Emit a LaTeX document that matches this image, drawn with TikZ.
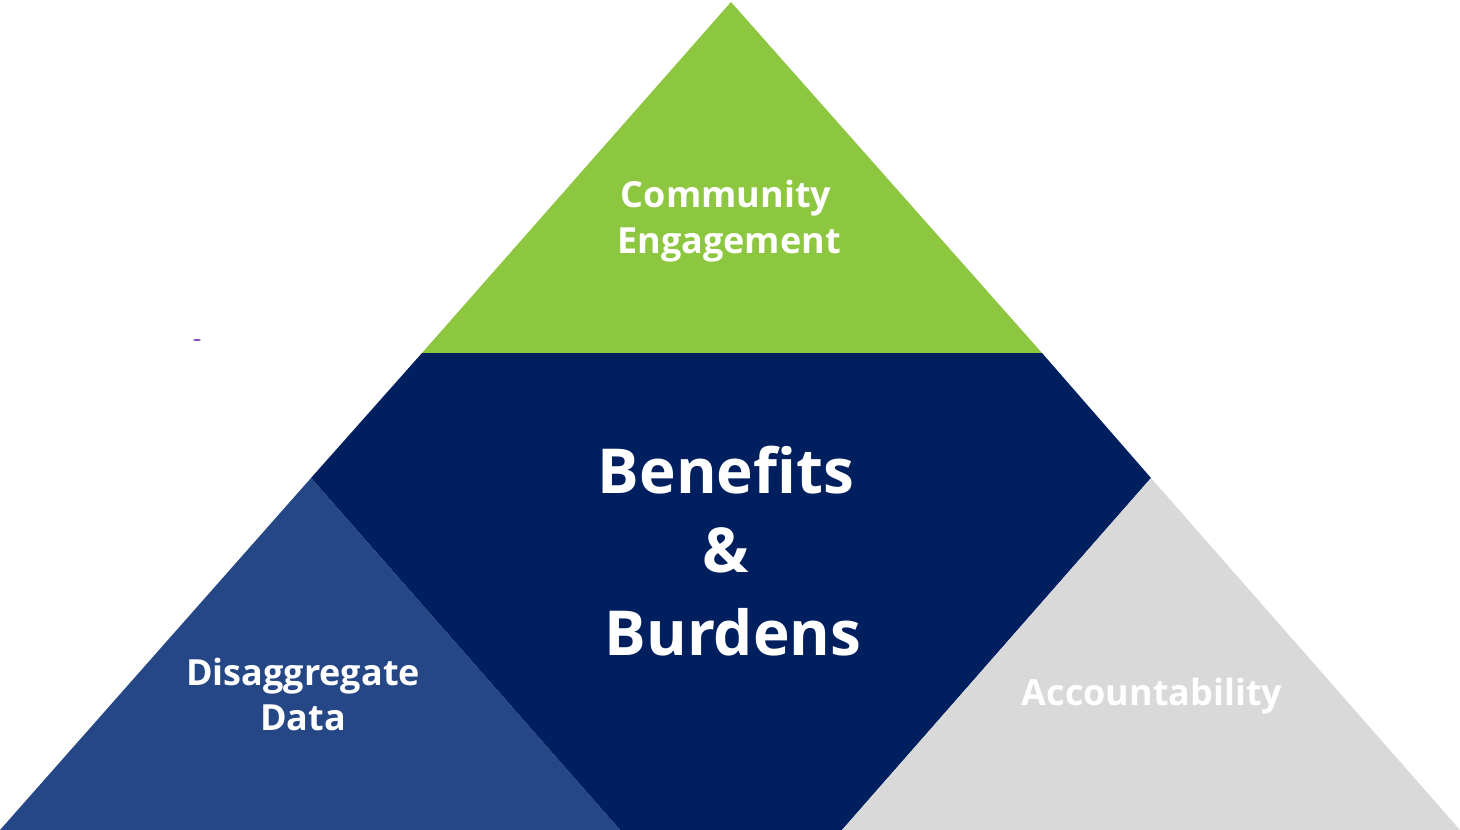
\documentclass[tikz,border=0pt]{standalone}
\usepackage{fontspec}
\setmainfont{Open Sans}
\definecolor{cgreen}{HTML}{8DC63F}
\definecolor{cnavy}{HTML}{001F5F}
\definecolor{cblue}{HTML}{254785}
\definecolor{cgray}{HTML}{D9D9D9}
\definecolor{cmark}{HTML}{8A4FC0}
\begin{document}
\begin{tikzpicture}[x=1pt,y=-1pt,
  lbl/.style={text=white,font=\bfseries,anchor=base,inner sep=0pt},
  small/.style={lbl,font=\fontsize{36}{42}\selectfont\bfseries},
  big/.style={lbl,font=\fontsize{62}{80}\selectfont\bfseries}]
\useasboundingbox (0,0) rectangle (1460,830);
% coordinates
\coordinate (apex) at (731,2);
\coordinate (gl) at (422,353);
\coordinate (gr) at (1042,353);
\coordinate (bl0) at (0,830);
\coordinate (bla) at (311,478);
\coordinate (blr) at (620,830);
\coordinate (gra) at (1151,478);
\coordinate (grl) at (842,830);
\coordinate (gr0) at (1460,830);
% regions
\fill[cgreen] (apex) -- (gr) -- (gl) -- cycle;
\fill[cnavy] (gl) -- (gr) -- (gra) -- (grl) -- (blr) -- (bla) -- cycle;
\fill[cblue] (bla) -- (blr) -- (bl0) -- cycle;
\fill[cgray] (gra) -- (gr0) -- (grl) -- cycle;
% tiny mark
\fill[cmark] (197,340) ellipse (4 and 1);
% labels
\node[small] (c1) at (726,207) {Community};
\node[small] (c2) at (729,253) {Engagement};
\node[big] (b1) at (726,493) {Benefits};
\node[big] (b2) at (726,572) {\&};
\node[big] (b3) at (733,655) {Burdens};
\node[small] (d1) at (303,685) {Disaggregate};
\node[small] (d2) at (303,730) {Data};
\node[small] (a1) at (1152,705) {Accountability};
\end{tikzpicture}
\end{document}
